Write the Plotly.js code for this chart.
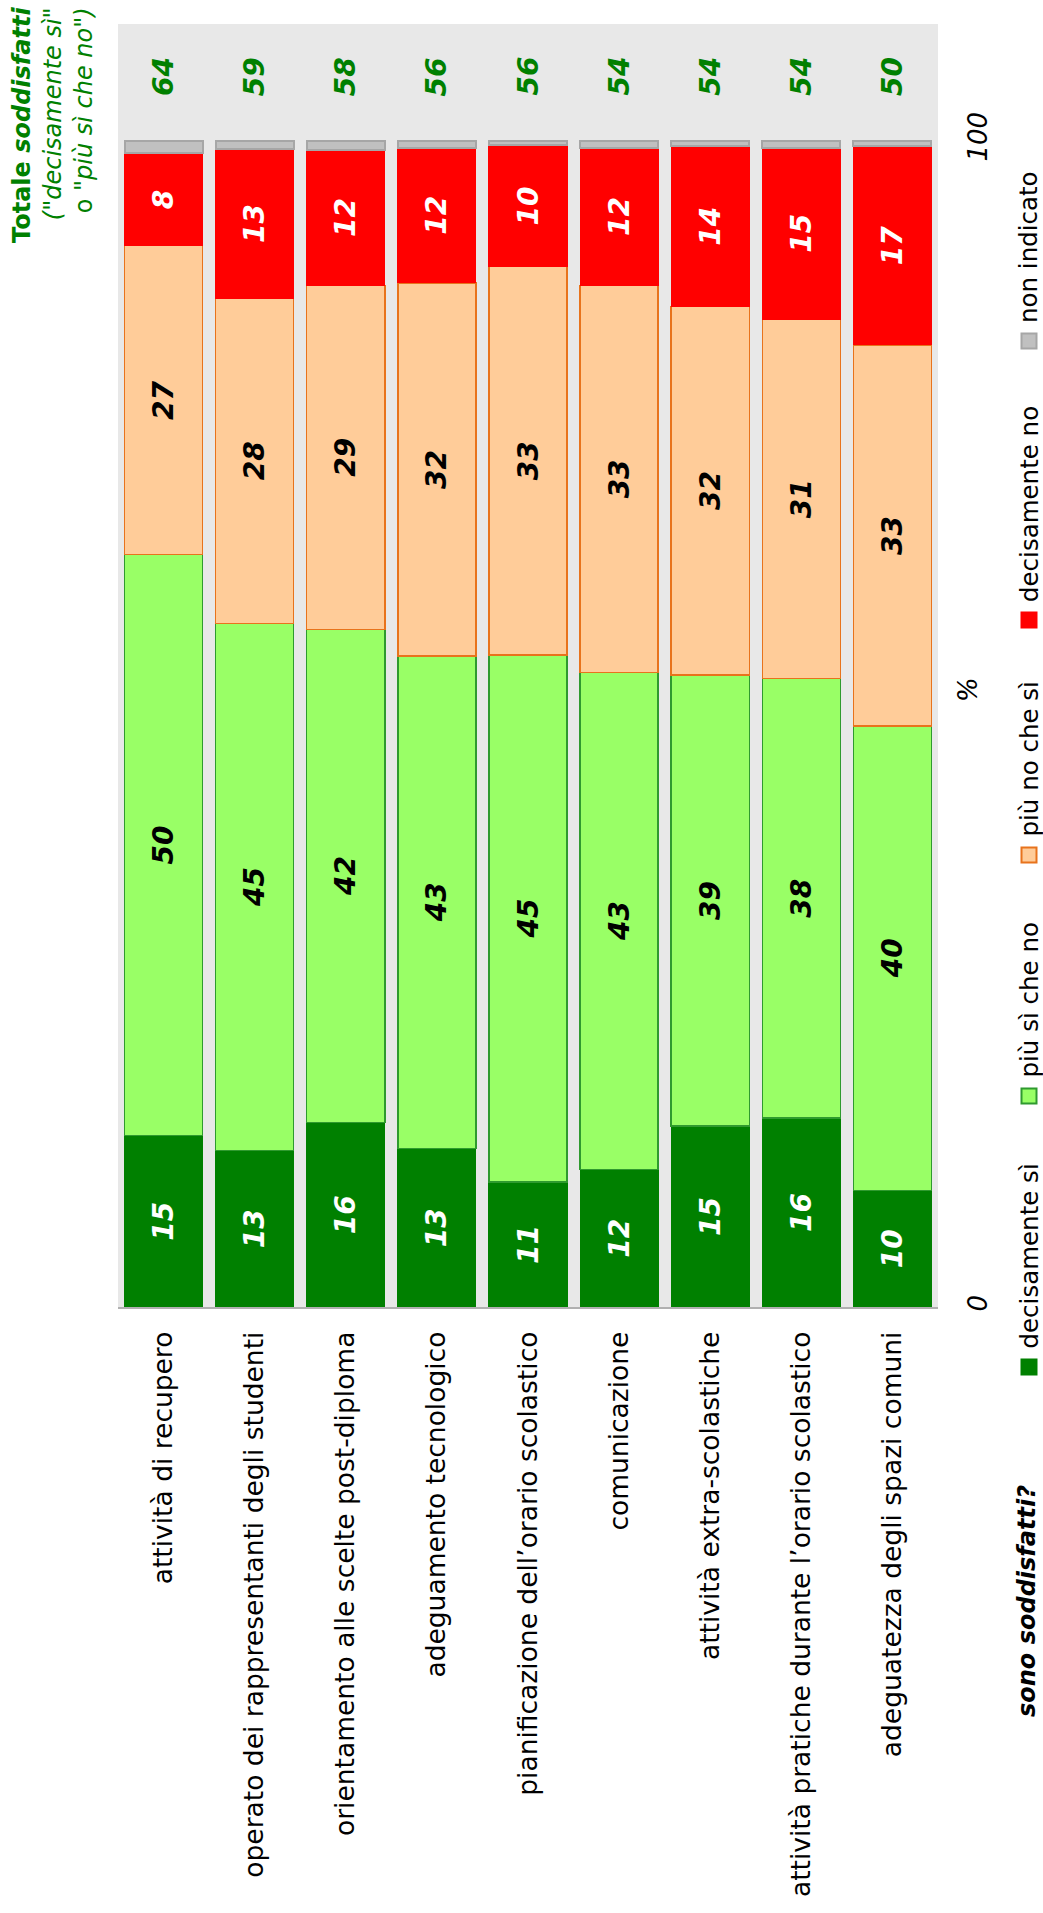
<!DOCTYPE html>
<html>
<head>
<meta charset="utf-8">
<script src="https://cdn.plot.ly/plotly-3.0.1.min.js"></script>
<style>
  html, body { margin: 0; padding: 0; background: #ffffff; }
  #chart { width: 1043px; height: 1913px; }
</style>
</head>
<body>
<div id="chart"></div>
<script>
// ---------------- DATA ----------------
const categories = [
  "attività di recupero",
  "operato dei rappresentanti degli studenti",
  "orientamento alle scelte post-diploma",
  "adeguamento tecnologico",
  "pianificazione dell’orario scolastico",
  "comunicazione",
  "attività extra-scolastiche",
  "attività pratiche durante l’orario scolastico",
  "adeguatezza degli spazi comuni"
];
const seriesNames = ["decisamente sì", "più sì che no", "più no che sì", "decisamente no", "non indicato"];

// segment sizes (%)
const decisamenteSi   = [14.7, 13.4, 15.8, 13.6, 10.7, 11.8, 15.5, 16.2, 10.0];
const piuSiCheNo      = [49.8, 45.2, 42.3, 42.2, 45.2, 42.6, 38.7, 37.7, 39.8];
const piuNoCheSi      = [26.5, 27.9, 29.5, 32.0, 33.3, 33.2, 31.6, 30.8, 32.7];
const decisamenteNo   = [ 7.9, 12.8, 11.6, 11.6, 10.4, 11.8, 13.7, 14.7, 17.0];
const nonIndicato     = [ 1.1,  0.7,  0.8,  0.6,  0.4,  0.6,  0.5,  0.6,  0.5];

// printed labels
const labelsDecisamenteSi = ["15","13","16","13","11","12","15","16","10"];
const labelsPiuSiCheNo    = ["50","45","42","43","45","43","39","38","40"];
const labelsPiuNoCheSi    = ["27","28","29","32","33","33","32","31","33"];
const labelsDecisamenteNo = ["8","13","12","12","10","12","14","15","17"];

// "Totale soddisfatti" column
const totaleSoddisfatti = [64, 59, 58, 56, 56, 54, 54, 54, 50];

const valueTicks = [0, 100];
const valueTickText = ["0", "100"];

// ---------------- STYLE / LAYOUT ----------------
const W = 1043, H = 1913;
const M = { l: 118, r: 105, t: 24, b: 606 };
const plotW = W - M.l - M.r, plotH = H - M.t - M.b;
const px = x => (x - M.l) / plotW;          // pixel x -> paper x
const py = y => (H - M.b - y) / plotH;      // pixel y -> paper y

const FONT = "DejaVu Sans, Verdana, sans-serif";
const colors  = ["#008000", "#99ff66", "#ffcc99", "#ff0000", "#c0c0c0"];
const borders = ["#008000", "#2f9a2f", "#e8731c", "#ff0000", "#a6a6a6"];
const borderW = [1, 1.5, 1.5, 1, 2];
const textCol = ["#ffffff", "#000000", "#000000", "#ffffff", "#000000"];

const values = [decisamenteSi, piuSiCheNo, piuNoCheSi, decisamenteNo, nonIndicato];
const labels = [labelsDecisamenteSi, labelsPiuSiCheNo, labelsPiuNoCheSi, labelsDecisamenteNo, categories.map(() => "")];

const traces = values.map((v, i) => ({
  type: "bar",
  name: seriesNames[i],
  x: categories,
  y: v,
  text: labels[i],
  textposition: "inside",
  insidetextanchor: "middle",
  textangle: -90,
  constraintext: "none",
  textfont: { family: FONT, size: 28, color: textCol[i], weight: "bold", style: "italic" },
  marker: { color: colors[i], line: { color: borders[i], width: borderW[i] } },
  hoverinfo: "skip",
  showlegend: false
}));

const annotations = [];

// totals
categories.forEach((c, i) => {
  annotations.push({
    xref: "x", yref: "y", x: c, y: 105.5,
    text: String(totaleSoddisfatti[i]),
    showarrow: false, textangle: -90,
    font: { family: FONT, size: 28, color: "#008000", weight: "bold", style: "italic" },
    xanchor: "center", yanchor: "middle"
  });
});

// title block (top-left)
annotations.push({
  xref: "paper", yref: "paper", x: px(53), y: py(6),
  xanchor: "center", yanchor: "top", textangle: -90, align: "right",
  showarrow: false, borderpad: 0,
  text: "<b>Totale <i>soddisfatti</i></b><br><i>(\"decisamente sì\"</i><br>o <i>\"più sì che no\")</i>",
  font: { family: FONT, size: 24, color: "#008000" }
});

// "sono soddisfatti?"
annotations.push({
  xref: "paper", yref: "paper", x: px(1027), y: py(1601),
  xanchor: "center", yanchor: "middle", textangle: -90, showarrow: false, borderpad: 0,
  text: "<b><i>sono soddisfatti?</i></b>",
  font: { family: FONT, size: 24, color: "#000000" }
});

// "%" on value axis
annotations.push({
  xref: "paper", yref: "paper", x: px(968), y: py(690),
  xanchor: "center", yanchor: "middle", textangle: -90, showarrow: false,
  text: "%",
  font: { family: FONT, size: 26, color: "#000000", style: "italic" }
});

// legend (rotated), built from series names
const legendSquareY = [1367, 1096, 855, 620, 341];
const legendX = 1029;
const shapes = [];
seriesNames.forEach((n, i) => {
  const cy = legendSquareY[i];
  shapes.push({
    type: "rect", xref: "paper", yref: "paper",
    x0: px(legendX - 7.5), x1: px(legendX + 7.5),
    y0: py(cy + 7.5), y1: py(cy - 7.5),
    fillcolor: colors[i], line: { color: borders[i], width: 2 }
  });
  annotations.push({
    xref: "paper", yref: "paper", x: px(legendX), y: py(cy - 17),
    xanchor: "center", yanchor: "bottom", textangle: -90, showarrow: false, borderpad: 0,
    text: n,
    font: { family: FONT, size: 24.5, color: "#000000" }
  });
});

const layout = {
  width: W, height: H,
  margin: M,
  paper_bgcolor: "#ffffff",
  plot_bgcolor: "#e8e8e8",
  barmode: "stack",
  bargap: 0.143,
  showlegend: false,
  xaxis: {
    type: "category",
    tickangle: -90,
    ticks: "",
    ticklabelstandoff: 12,
    tickfont: { family: FONT, size: 26.5, color: "#000000" },
    showline: true, linecolor: "#b0b0b0", linewidth: 2,
    showgrid: false, zeroline: false, automargin: false, fixedrange: true
  },
  yaxis: {
    range: [0, 110],
    side: "right",
    tickvals: valueTicks, ticktext: valueTickText,
    tickangle: -90,
    ticks: "",
    ticklabelstandoff: 22,
    tickfont: { family: FONT, size: 26, color: "#000000", style: "italic" },
    showgrid: false, zeroline: false, showline: false, automargin: false, fixedrange: true
  },
  annotations: annotations,
  shapes: shapes,
  hovermode: false
};

Plotly.newPlot("chart", traces, layout, { displayModeBar: false, staticPlot: true });
</script>
</body>
</html>
